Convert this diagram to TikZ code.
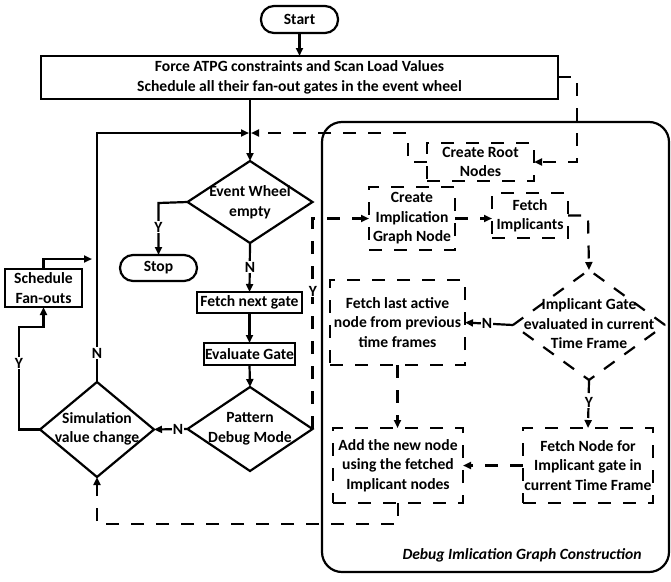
\documentclass[tikz,border=0pt]{standalone}
\usepackage{fontspec}
\setmainfont{Carlito}
\usetikzlibrary{shapes.geometric,arrows.meta}
\tikzset{
  every node/.style={font=\fontsize{15.6}{19.5}\selectfont\bfseries},
  lw/.style={line width=2.2pt},
  dsh/.style={dash pattern=on 13pt off 12pt},
  box/.style={draw, lw, inner sep=0pt, outer sep=0pt, align=center},
  dbox/.style={box, dsh},
  term/.style={box, rounded corners=13pt},
  dia/.style={draw, lw, diamond, inner sep=0pt, outer sep=0pt},
  txt/.style={align=center, inner sep=0pt},
  arr/.style={lw, -{Triangle[length=8pt,width=7pt]}},
  darr/.style={arr, dsh},
  lab/.style={fill=white, inner sep=1pt}
}
\begin{document}
\begin{tikzpicture}[x=1pt,y=-1pt]
\useasboundingbox (0,0) rectangle (671,581);
% container
\node[draw, lw, rounded corners=20pt, minimum width=347pt, minimum height=450pt, inner sep=0pt] (dig) at (495.5,347) {};
\node[txt, font=\fontsize{15.6}{19.5}\selectfont\bfseries\itshape] (diglab) at (522,555) {Debug Imlication Graph Construction};
% main flow
\node[term, minimum width=77pt, minimum height=27pt] (start) at (299.5,19.5) {Start};
\node[box, minimum width=517pt, minimum height=43pt] (force) at (299.5,77.5) {Force ATPG constraints and Scan Load Values\\Schedule all their fan-out gates in the event wheel};
\node[dbox, minimum width=107pt, minimum height=38pt] (croot) at (480.5,162) {Create Root\\Nodes};
\node[dia, minimum width=125pt, minimum height=82pt] (ew) at (250,202) {};
\node[txt] (ewt) at (250,202) {Event Wheel\\empty};
\node[term, minimum width=77pt, minimum height=26pt] (stop) at (158.5,268) {Stop};
\node[box, minimum width=105pt, minimum height=21pt] (fng) at (249.5,302.5) {Fetch next gate};
\node[box, minimum width=91pt, minimum height=22pt] (evg) at (249.5,354) {Evaluate Gate};
\node[dia, minimum width=125pt, minimum height=84pt] (pdm) at (250,429) {};
\node[txt] (pdmt) at (250,429) {Pattern\\Debug Mode};
\node[dia, minimum width=114pt, minimum height=95pt] (sim) at (97,429.5) {};
\node[txt] (simt) at (97,429) {Simulation\\value change};
\node[box, minimum width=77pt, minimum height=38pt] (sfo) at (43.5,288) {Schedule\\Fan-outs};
% debug part
\node[dbox, minimum width=86pt, minimum height=63pt] (cign) at (412,218.5) {Create\\Implication\\Graph Node};
\node[dbox, minimum width=76pt, minimum height=45pt] (fi) at (530,215.5) {Fetch\\Implicants};
\node[dia, dsh, minimum width=152pt, minimum height=110pt] (ig) at (589,325) {};
\node[txt] (igt) at (589,324) {Implicant Gate\\evaluated in current\\Time Frame};
\node[dbox, minimum width=135pt, minimum height=85pt] (flab) at (397.5,322.5) {Fetch last active\\node from previous\\time frames};
\node[dbox, minimum width=130pt, minimum height=75pt] (add) at (398,465.5) {Add the new node\\using the fetched\\Implicant nodes};
\node[dbox, minimum width=130pt, minimum height=75pt] (fn) at (588,465.5) {Fetch Node for\\Implicant gate in\\current Time Frame};
% junction and bend points
\coordinate (J) at (250,133);
\coordinate (fe1) at (577,77);
\coordinate (fe2) at (577,162);
\coordinate (cr1) at (408,162);
\coordinate (cr2) at (408,133);
\coordinate (st1) at (158.5,203);
\coordinate (y1) at (19,429.5);
\coordinate (y2) at (19,327);
\coordinate (y3) at (43.5,327);
\coordinate (s1) at (43.5,259);
\coordinate (s2) at (92,259);
\coordinate (fi1) at (588,215.5);
\coordinate (ad1) at (398,524);
\coordinate (ad2) at (97,524);
% connectors
\draw[arr] (start.south) -- (force.north);
\draw[arr] (force.south -| ew.north) -- (ew.north);
\draw[arr] (sim.north) -- (sim.north |- J) -- ([xshift=-1pt]J);
\draw[darr] (croot.west) -- (cr1) -- (cr2) -- ([xshift=1pt]J);
\draw[darr] (force.east |- fe1) -- (fe1) -- (fe2) -- (croot.east);
\draw[arr] (ew.west) -- (st1) -- (stop.north);
\node[lab] (ly1) at (158.5,227) {Y};
\draw[arr] (ew.south) -- (fng.north);
\node[lab] (ln1) at (250,267) {N};
\draw[arr] (fng.south) -- (evg.north);
\draw[arr] (evg.south) -- (pdm.north);
\draw[arr] (pdm.west) -- (sim.east);
\node[lab, inner sep=0.5pt] (ln2) at (178,429) {N};
\draw[arr] (sim.west) -- (y1) -- (y2) -- (y3) -- (sfo.south);
\node[lab] (ly2) at (19,363) {Y};
\draw[arr] (sfo.north) -- (s1) -- (s2);
\node[lab] (ln3) at (97,353) {N};
\draw[darr] (pdm.east) -- (pdm.east |- cign.west) -- (cign.west);
\node[lab] (ly3) at (313,291) {Y};
\draw[darr] (cign.east) -- (cign.east -| fi.west);
\draw[darr] (fi.east) -- (fi1) -- (ig.north);
\draw[arr] (ig.west) -- (flab.east);
\node[lab, inner sep=0.5pt] (ln4) at (487,323) {N};
\draw[darr] (flab.south) -- (flab.south |- add.north);
\draw[darr] (ig.south) -- (fn.north);
\node[lab] (ly4) at (589,402) {Y};
\draw[darr] (fn.west) -- (add.east);
\draw[darr] (add.south) -- (ad1) -- (ad2) -- (sim.south);
\end{tikzpicture}
\end{document}
